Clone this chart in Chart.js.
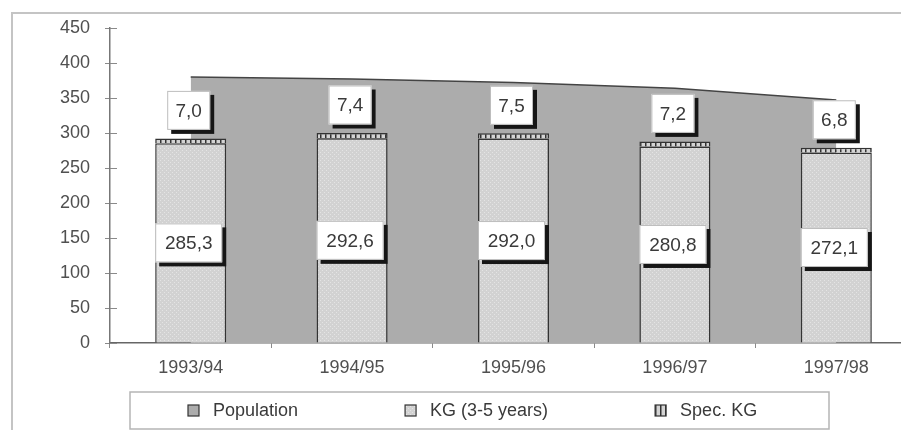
<!DOCTYPE html>
<html>
<head>
<meta charset="utf-8">
<script src="https://cdn.jsdelivr.net/npm/chart.js@4.4.1/dist/chart.umd.min.js"></script>
<style>
  html, body { margin: 0; padding: 0; background: #fff; overflow: hidden; }
  #wrap { width: 920px; height: 430px; }
</style>
</head>
<body>
<div id="wrap"><canvas id="kgChart"></canvas></div>
<script>
// values (thousands)
const years = ['1993/94', '1994/95', '1995/96', '1996/97', '1997/98'];
const population = [380, 377, 372, 364, 347];
const kgChildren = [285.3, 292.6, 292.0, 280.8, 272.1];
const specKg = [7.0, 7.4, 7.5, 7.2, 6.8];
const seriesNames = ['Population', 'KG (3-5 years)', 'Spec. KG'];

const FONT = '"Liberation Sans", Arial, sans-serif';

// small canvas patterns to imitate the print hatching
function makePattern(size, draw) {
    const c = document.createElement('canvas');
    c.width = size; c.height = size;
    draw(c.getContext('2d'), size);
    return document.getElementById('kgChart').getContext('2d').createPattern(c, 'repeat');
}
const popFill = '#acacac';
const kgFill = makePattern(4, (g, s) => {
    g.fillStyle = '#d2d2d2'; g.fillRect(0, 0, s, s);
    g.fillStyle = '#e4e4e4';
    g.fillRect(0, 0, 1, 1); g.fillRect(2, 2, 1, 1);
});
const specFill = makePattern(5, (g, s) => {
    g.fillStyle = '#d4d4d4'; g.fillRect(0, 0, s, s);
    g.fillStyle = '#333'; g.fillRect(0, 0, 1.5, s);
});
const fills = [popFill, kgFill, specFill];

function fmt(v) {
    return v.toFixed(1).replace('.', ',');
}

function drawBox(ctx, cx, cy, w, h, text) {
    const x = cx - w / 2, y = cy - h / 2;
    ctx.fillStyle = '#161616';
    ctx.fillRect(x + 4, y + 4, w, h);
    ctx.fillStyle = '#fff';
    ctx.fillRect(x, y, w, h);
    ctx.strokeStyle = '#bdbdbd';
    ctx.lineWidth = 1;
    ctx.strokeRect(x + 0.5, y + 0.5, w - 1, h - 1);
    ctx.fillStyle = '#3a3a3a';
    ctx.fillText(text, cx, cy + 1);
}

// grey page frame (top and left edges of the scan)
const pageFrame = {
    id: 'pageFrame',
    beforeDraw(chart) {
        const ctx = chart.ctx;
        ctx.save();
        ctx.strokeStyle = '#c4c4c4';
        ctx.lineWidth = 2;
        ctx.beginPath();
        ctx.moveTo(chart.width, 13);
        ctx.lineTo(12, 13);
        ctx.lineTo(12, chart.height);
        ctx.stroke();
        ctx.restore();
    }
};

// y ticks cross the axis line
const crossTicks = {
    id: 'crossTicks',
    afterDraw(chart) {
        const ctx = chart.ctx, y = chart.scales.y;
        ctx.save();
        ctx.strokeStyle = '#8a8a8a';
        ctx.lineWidth = 1;
        y.ticks.forEach(t => {
            const py = Math.round(y.getPixelForValue(t.value)) + 0.5;
            ctx.beginPath();
            ctx.moveTo(y.right, py);
            ctx.lineTo(y.right + 7, py);
            ctx.stroke();
        });
        ctx.restore();
    }
};

// white value boxes with black drop shadow
const valueBoxes = {
    id: 'valueBoxes',
    afterDatasetsDraw(chart) {
        const ctx = chart.ctx;
        ctx.save();
        ctx.font = '19px ' + FONT;
        ctx.textAlign = 'center';
        ctx.textBaseline = 'middle';
        chart.getDatasetMeta(1).data.forEach((bar, i) => {
            drawBox(ctx, bar.x - 2, (bar.y + bar.base) / 2, bar.width - 4, 39, fmt(kgChildren[i]));
        });
        chart.getDatasetMeta(2).data.forEach((bar, i) => {
            drawBox(ctx, bar.x - 2, bar.y - 28, 43, 39, fmt(specKg[i]));
        });
        ctx.restore();
    }
};

// framed legend under the axis
const boxLegend = {
    id: 'boxLegend',
    afterDraw(chart) {
        const ctx = chart.ctx;
        const frame = { left: 130, top: 392, right: 829, bottom: 429 };
        ctx.save();
        ctx.strokeStyle = '#b5b5b5';
        ctx.lineWidth = 1.5;
        ctx.strokeRect(frame.left, frame.top, frame.right - frame.left, frame.bottom - frame.top);
        ctx.font = '18px ' + FONT;
        ctx.textBaseline = 'middle';
        ctx.textAlign = 'left';
        const cy = 411;
        let x = 188;
        seriesNames.forEach((name, i) => {
            ctx.fillStyle = fills[i];
            ctx.fillRect(x, cy - 6, 11, 11);
            ctx.strokeStyle = '#333';
            ctx.lineWidth = 1.2;
            ctx.strokeRect(x, cy - 6, 11, 11);
            ctx.fillStyle = '#3a3a3a';
            ctx.fillText(name, x + 25, cy);
            x += 25 + ctx.measureText(name).width + 107;
        });
        ctx.restore();
    }
};

document.addEventListener('DOMContentLoaded', function() {
    const ctx = document.getElementById('kgChart').getContext('2d');
    new Chart(ctx, {
        type: 'bar',
        data: {
            labels: years,
            datasets: [
                {
                    type: 'line',
                    label: seriesNames[0],
                    data: population,
                    stack: 'pop',
                    order: 2,
                    fill: 'origin',
                    backgroundColor: popFill,
                    borderColor: '#444',
                    borderWidth: 1.5,
                    pointRadius: 0,
                    tension: 0
                },
                {
                    label: seriesNames[1],
                    data: kgChildren,
                    stack: 'kg',
                    order: 1,
                    backgroundColor: kgFill,
                    borderColor: '#333',
                    borderWidth: 1.5,
                    categoryPercentage: 1,
                    barPercentage: 0.44
                },
                {
                    label: seriesNames[2],
                    data: specKg,
                    stack: 'kg',
                    order: 1,
                    backgroundColor: specFill,
                    borderColor: '#333',
                    borderWidth: 1.5,
                    categoryPercentage: 1,
                    barPercentage: 0.44
                }
            ]
        },
        options: {
            responsive: true,
            maintainAspectRatio: false,
            animation: false,
            layout: {
                padding: { top: 28, left: 25, right: 3, bottom: 0 }
            },
            plugins: {
                legend: { display: false },
                tooltip: { enabled: false }
            },
            scales: {
                x: {
                    stacked: true,
                    offset: true,
                    grid: {
                        offset: true,
                        drawOnChartArea: false,
                        tickLength: 5,
                        color: '#8a8a8a'
                    },
                    border: { color: '#666', width: 1.5 },
                    ticks: {
                        color: '#505050',
                        font: { family: FONT, size: 18 },
                        padding: 9,
                        maxRotation: 0
                    },
                    afterFit: function(scale) { scale.height = 87; }
                },
                y: {
                    stacked: true,
                    min: 0,
                    max: 450,
                    grid: {
                        drawOnChartArea: false,
                        tickLength: 5,
                        color: '#8a8a8a'
                    },
                    border: { color: '#777', width: 1.5 },
                    ticks: {
                        stepSize: 50,
                        color: '#505050',
                        font: { family: FONT, size: 18 },
                        padding: 15
                    },
                    afterFit: function(scale) { scale.width = 85; }
                }
            }
        },
        plugins: [pageFrame, crossTicks, valueBoxes, boxLegend]
    });
});
</script>
</body>
</html>
